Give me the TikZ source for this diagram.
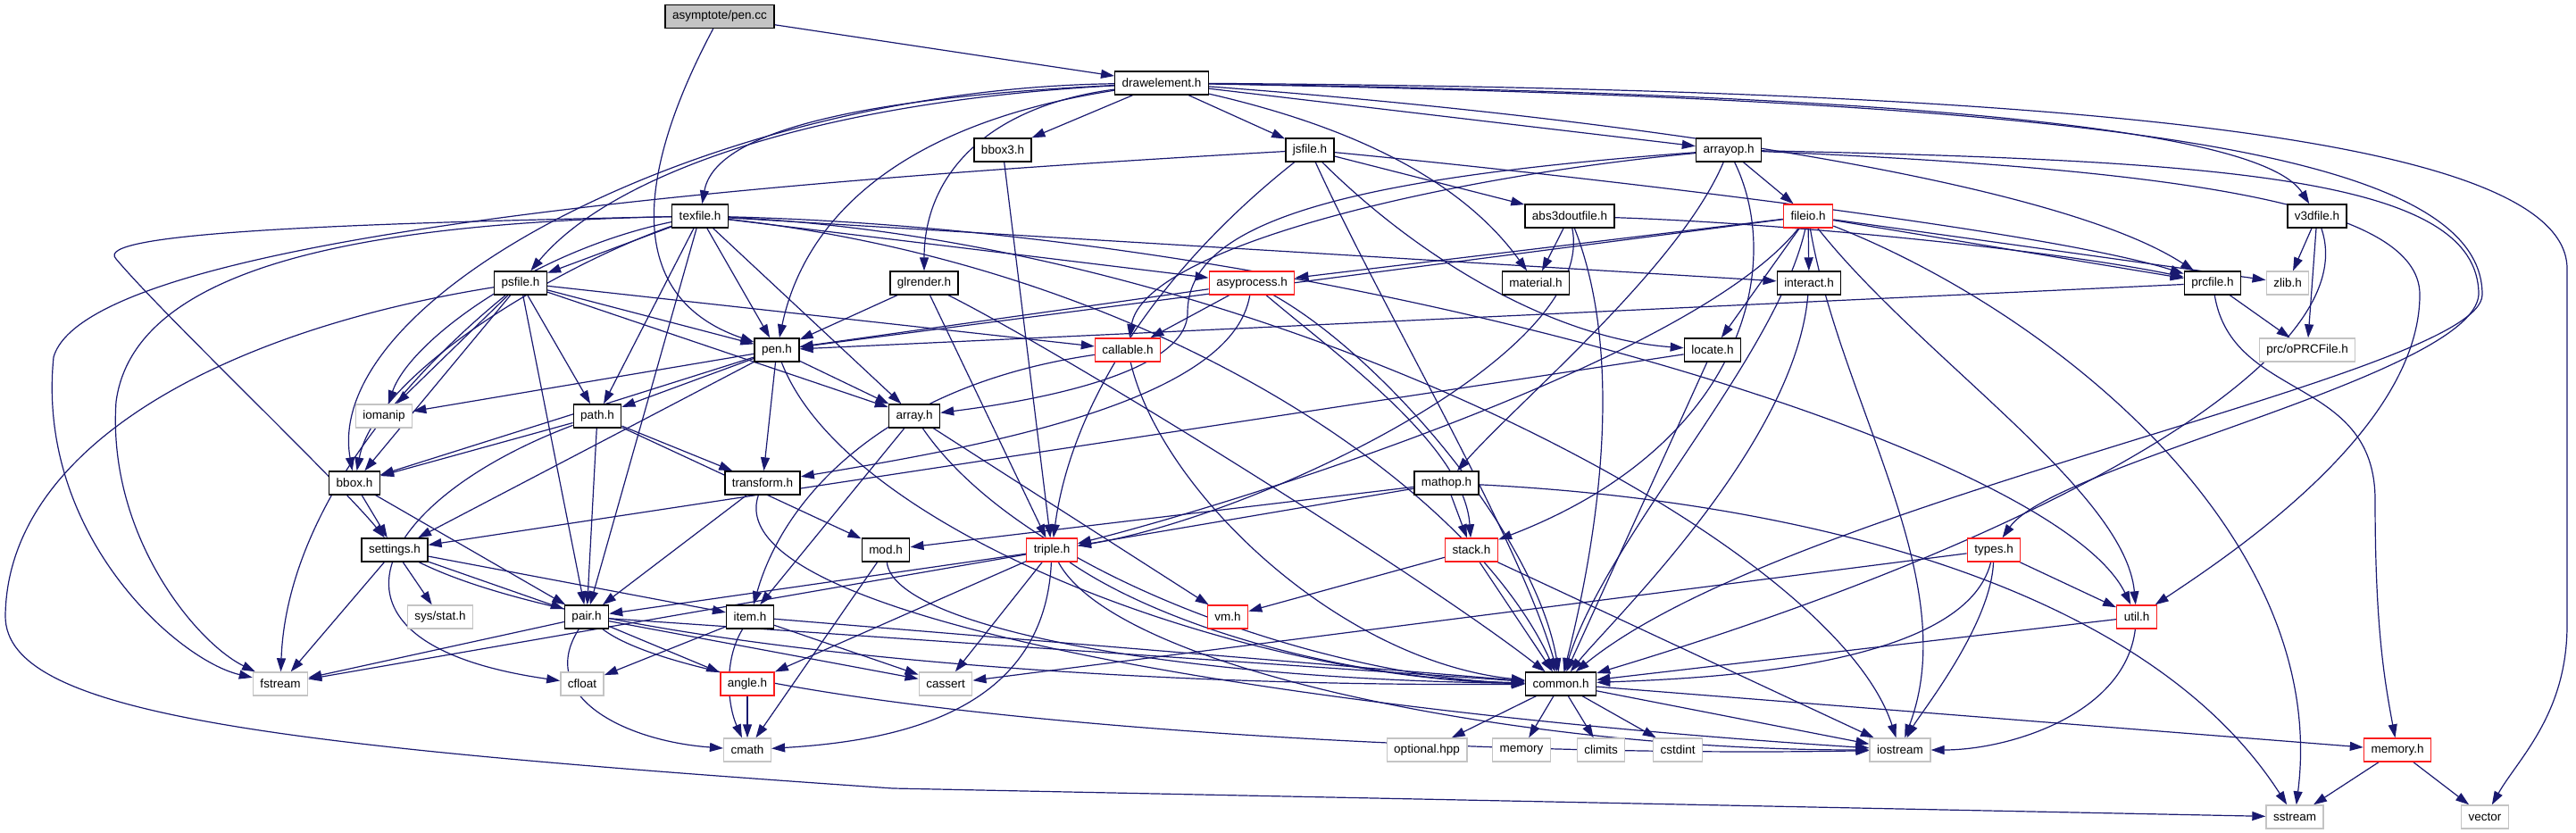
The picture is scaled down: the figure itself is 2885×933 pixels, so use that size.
\documentclass[tikz,border=0pt]{standalone}
\usepackage{fontspec}
\setmainfont{Liberation Sans}
\usetikzlibrary{arrows.meta,backgrounds}
\definecolor{edgeblue}{RGB}{25,25,112}
\definecolor{boxred}{RGB}{250,30,30}
\definecolor{boxgray}{RGB}{196,196,196}
\begin{document}
\begin{tikzpicture}[x=1pt,y=-1pt,
  hfile/.style={draw=black,fill=white,line width=1.4pt,minimum height=26pt,
    inner xsep=8pt,inner ysep=0pt,font=\fontsize{13.5}{15}\selectfont},
  redfile/.style={hfile,draw=boxred},
  sysfile/.style={hfile,draw=boxgray},
  startfile/.style={hfile,fill=boxgray},
  incl/.style={draw=edgeblue,line width=1.2pt,-{Triangle[length=15pt,width=10pt]}}]
\useasboundingbox (0,0) rectangle (2885,933);

% rank 0 - 4
\node[startfile] (pencc) at (806,18.5) {asymptote/pen.cc};
\node[hfile] (drawel) at (1301,93) {drawelement.h};
\node[hfile] (bboxthree) at (1123,168) {bbox3.h};
\node[hfile] (jsfile) at (1467,168) {jsfile.h};
\node[hfile] (arrayop) at (1936,168) {arrayop.h};
\node[hfile] (texfile) at (784,242) {texfile.h};
\node[hfile] (absout) at (1758,242) {abs3doutfile.h};
\node[redfile] (fileio) at (2025,242) {fileio.h};
\node[hfile] (vthree) at (2595,242) {v3dfile.h};
\node[hfile] (psfile) at (583,317) {psfile.h};
\node[hfile] (glrender) at (1035,317) {glrender.h};
\node[redfile] (asyproc) at (1402,317) {asyprocess.h};
\node[hfile] (material) at (1720,317) {material.h};
\node[hfile] (interact) at (2026,317) {interact.h};
\node[hfile] (prcfile) at (2478,317) {prcfile.h};
\node[sysfile] (zlib) at (2562,317) {zlib.h};

% rank 5 - 9
\node[hfile] (pen) at (870,392) {pen.h};
\node[redfile] (callable) at (1263,392) {callable.h};
\node[hfile] (locate) at (1918,392) {locate.h};
\node[sysfile] (oprc) at (2584,392) {prc/oPRCFile.h};
\node[sysfile] (iomanip) at (430,466) {iomanip};
\node[hfile] (path) at (669,466) {path.h};
\node[hfile] (array) at (1024,466) {array.h};
\node[hfile] (bbox) at (397,541) {bbox.h};
\node[hfile] (transform) at (854,541) {transform.h};
\node[hfile] (mathop) at (1620,541) {mathop.h};
\node[hfile] (settings) at (442,616) {settings.h};
\node[hfile] (mod) at (992,616) {mod.h};
\node[redfile] (triple) at (1178,616) {triple.h};
\node[redfile] (stack) at (1648,616) {stack.h};
\node[redfile] (types) at (2233,616) {types.h};
\node[sysfile] (sysstat) at (493,691) {sys/stat.h};
\node[hfile] (pair) at (657,691) {pair.h};
\node[hfile] (item) at (840,691) {item.h};
\node[redfile] (vm) at (1375,691) {vm.h};
\node[redfile] (util) at (2393,691) {util.h};

% rank 10 - 12
\node[sysfile] (fstream) at (314,766) {fstream};
\node[sysfile] (cfloat) at (652,766) {cfloat};
\node[redfile] (angle) at (837,766) {angle.h};
\node[sysfile] (cassert) at (1059,766) {cassert};
\node[hfile] (common) at (1748,766) {common.h};
\node[sysfile] (cmath) at (837,840) {cmath};
\node[sysfile] (optional) at (1598,840) {optional.hpp};
\node[sysfile] (memory) at (1704,840) {memory};
\node[sysfile] (climits) at (1793,840) {climits};
\node[sysfile] (cstdint) at (1879,840) {cstdint};
\node[sysfile] (iostream) at (2128,840) {iostream};
\node[redfile] (memoryh) at (2685,840) {memory.h};
\node[sysfile] (sstream) at (2570,915) {sstream};
\node[sysfile] (vector) at (2783,915) {vector};

\begin{pgfonlayer}{background}
% pen.cc
\draw[incl] (pencc) -- (drawel);
\draw[incl] (pencc) .. controls (720,180) and (690,330) .. (pen);

% drawelement.h
\draw[incl] (drawel) -- (bboxthree);
\draw[incl] (drawel) -- (jsfile);
\draw[incl] (drawel) -- (arrayop);
\draw[incl] (drawel) .. controls (950,110) and (800,150) .. (texfile);
\draw[incl] (drawel) .. controls (900,115) and (680,200) .. (psfile);
\draw[incl] (drawel) .. controls (800,100) and (360,330) .. (bbox);
\draw[incl] (drawel) .. controls (1000,140) and (900,250) .. (pen);
\draw[incl] (drawel) .. controls (1100,120) and (1035,200) .. (glrender);
\draw[incl] (drawel) .. controls (1550,150) and (1650,220) .. (material);
\draw[incl] (drawel) .. controls (1800,130) and (2300,200) .. (prcfile);
\draw[incl] (drawel) .. controls (2100,105) and (2530,140) .. (vthree);
\draw[incl] (drawel) .. controls (2300,100) and (2872,150) .. (2875,300)
  -- (2875,700) .. controls (2875,800) and (2820,850) .. (vector);
\draw[incl] (drawel) .. controls (2300,112) and (2780,160) .. (2780,330)
  .. controls (2780,420) and (2000,560) .. (common);

% bbox3.h, jsfile.h
\draw[incl] (bboxthree) -- (triple);
\draw[incl] (jsfile) .. controls (900,200) and (100,260) .. (60,400)
  .. controls (40,600) and (200,740) .. (fstream);
\draw[incl] (jsfile) .. controls (1300,300) and (1200,450) .. (triple);
\draw[incl] (jsfile) .. controls (1550,350) and (1700,600) .. (common);
\draw[incl] (jsfile) .. controls (1600,300) and (1750,380) .. (locate);
\draw[incl] (jsfile) .. controls (1800,200) and (2300,260) .. (prcfile);
\draw[incl] (jsfile) -- (absout);

% arrayop.h
\draw[incl] (arrayop) -- (fileio);
\draw[incl] (arrayop) .. controls (1600,200) and (1280,280) .. (callable);
\draw[incl] (arrayop) .. controls (1500,200) and (1330,250) .. (1330,350)
  .. controls (1330,420) and (1150,450) .. (array);
\draw[incl] (arrayop) .. controls (1880,300) and (1700,450) .. (mathop);
\draw[incl] (arrayop) .. controls (2000,300) and (1950,500) .. (stack);
\draw[incl] (arrayop) .. controls (2500,180) and (2776,200) .. (2776,330)
  .. controls (2770,420) and (2300,520) .. (types);
\draw[incl] (arrayop) .. controls (2450,190) and (2710,230) .. (2710,330)
  .. controls (2710,480) and (2500,620) .. (util);

% texfile.h
\draw[incl] (texfile) -- (psfile);
\draw[incl] (texfile) -- (pen);
\draw[incl] (texfile) -- (path);
\draw[incl] (texfile) -- (pair);
\draw[incl] (texfile) -- (array);
\draw[incl] (texfile) -- (interact);
\draw[incl] (texfile) -- (asyproc);
\draw[incl] (texfile) .. controls (600,280) and (460,380) .. (iomanip);
\draw[incl] (texfile) .. controls (620,300) and (420,420) .. (bbox);
\draw[incl] (texfile) .. controls (1300,300) and (1650,550) .. (common);
\draw[incl] (texfile) .. controls (1500,260) and (2300,500) .. (util);
\draw[incl] (texfile) .. controls (1400,270) and (2050,600) .. (iostream);
\draw[incl] (texfile) .. controls (400,250) and (150,300) .. (130,450)
  .. controls (120,600) and (220,720) .. (fstream);
\draw[incl] (texfile) .. controls (400,250) and (100,260) .. (130,290)
  .. controls (180,350) and (380,540) .. (settings);

% abs3doutfile.h, fileio.h, v3dfile.h
\draw[incl] (absout) -- (material);
\draw[incl] (absout) .. controls (1790,400) and (1400,580) .. (triple);
\draw[incl] (absout) .. controls (1820,400) and (1790,600) .. (common);
\draw[incl] (absout) .. controls (2000,250) and (2300,280) .. (prcfile);
\draw[incl] (fileio) -- (pen);
\draw[incl] (fileio) -- (asyproc);
\draw[incl] (fileio) -- (interact);
\draw[incl] (fileio) -- (locate);
\draw[incl] (fileio) -- (zlib);
\draw[incl] (fileio) -- (prcfile);
\draw[incl] (fileio) .. controls (1990,400) and (1800,600) .. (common);
\draw[incl] (fileio) .. controls (2150,400) and (2380,550) .. (util);
\draw[incl] (fileio) .. controls (2060,450) and (2200,650) .. (iostream);
\draw[incl] (fileio) .. controls (2300,350) and (2610,600) .. (sstream);
\draw[incl] (fileio) .. controls (1900,400) and (1400,560) .. (triple);
\draw[incl] (vthree) -- (zlib);
\draw[incl] (vthree) -- (oprc);
\draw[incl] (vthree) .. controls (2650,400) and (2300,600) .. (common);

% psfile.h
\draw[incl] (psfile) -- (pen);
\draw[incl] (psfile) -- (iomanip);
\draw[incl] (psfile) -- (bbox);
\draw[incl] (psfile) -- (path);
\draw[incl] (psfile) -- (pair);
\draw[incl] (psfile) -- (array);
\draw[incl] (psfile) -- (callable);
\draw[incl] (psfile) .. controls (420,450) and (320,600) .. (fstream);
\draw[incl] (psfile) .. controls (250,370) and (8,500) .. (6,690)
  .. controls (6,800) and (300,835) .. (1000,883) -- (sstream);

% glrender.h, asyprocess.h, interact.h, prcfile.h
\draw[incl] (glrender) -- (pen);
\draw[incl] (glrender) -- (triple);
\draw[incl] (glrender) .. controls (1200,400) and (1600,650) .. (common);
\draw[incl] (asyproc) -- (pen);
\draw[incl] (asyproc) -- (callable);
\draw[incl] (asyproc) .. controls (1380,450) and (1100,500) .. (transform);
\draw[incl] (asyproc) .. controls (1500,400) and (1640,500) .. (stack);
\draw[incl] (asyproc) .. controls (1550,400) and (1720,600) .. (common);
\draw[incl] (interact) .. controls (2010,500) and (1800,700) .. (common);
\draw[incl] (prcfile) -- (pen);
\draw[incl] (prcfile) -- (oprc);
\draw[incl] (prcfile) .. controls (2500,450) and (2660,420) .. (2660,560)
  .. controls (2660,700) and (2670,760) .. (memoryh);

% pen.h, callable.h, locate.h
\draw[incl] (pen) -- (iomanip);
\draw[incl] (pen) -- (transform);
\draw[incl] (pen) -- (settings);
\draw[incl] (pen) -- (bbox);
\draw[incl] (pen) -- (path);
\draw[incl] (pen) -- (array);
\draw[incl] (pen) .. controls (950,600) and (1400,760) .. (common);
\draw[incl] (callable) .. controls (1000,430) and (880,550) .. (item);
\draw[incl] (callable) .. controls (1300,550) and (1500,740) .. (common);
\draw[incl] (locate) -- (settings);
\draw[incl] (locate) -- (common);

% path.h, array.h, bbox.h, transform.h, mathop.h
\draw[incl] (path) -- (bbox);
\draw[incl] (path) -- (transform);
\draw[incl] (path) -- (mod);
\draw[incl] (path) -- (pair);
\draw[incl] (path) .. controls (420,560) and (330,720) .. (cfloat);
\draw[incl] (array) -- (vm);
\draw[incl] (array) -- (item);
\draw[incl] (array) .. controls (1150,650) and (1500,760) .. (common);
\draw[incl] (bbox) -- (settings);
\draw[incl] (bbox) -- (pair);
\draw[incl] (transform) -- (pair);
\draw[incl] (transform) .. controls (800,700) and (1500,800) .. (iostream);
\draw[incl] (mathop) -- (mod);
\draw[incl] (mathop) -- (triple);
\draw[incl] (mathop) -- (stack);
\draw[incl] (mathop) .. controls (2000,560) and (2400,650) .. (sstream);

% settings.h, mod.h, triple.h, stack.h, types.h
\draw[incl] (settings) -- (fstream);
\draw[incl] (settings) -- (sysstat);
\draw[incl] (settings) -- (pair);
\draw[incl] (settings) -- (item);
\draw[incl] (settings) .. controls (650,720) and (1200,770) .. (common);
\draw[incl] (mod) -- (cmath);
\draw[incl] (mod) .. controls (1000,700) and (1300,760) .. (common);
\draw[incl] (triple) -- (pair);
\draw[incl] (triple) -- (fstream);
\draw[incl] (triple) -- (cassert);
\draw[incl] (triple) -- (angle);
\draw[incl] (triple) .. controls (1170,800) and (1000,830) .. (cmath);
\draw[incl] (triple) .. controls (1300,700) and (1500,760) .. (common);
\draw[incl] (triple) .. controls (1250,750) and (1700,840) .. (iostream);
\draw[incl] (stack) -- (vm);
\draw[incl] (stack) -- (common);
\draw[incl] (stack) -- (iostream);
\draw[incl] (types) -- (cassert);
\draw[incl] (types) -- (util);
\draw[incl] (types) .. controls (2200,750) and (1900,760) .. (common);
\draw[incl] (types) .. controls (2230,700) and (2150,800) .. (iostream);

% pair.h, item.h, util.h, angle.h
\draw[incl] (pair) -- (fstream);
\draw[incl] (pair) -- (angle);
\draw[incl] (pair) -- (cassert);
\draw[incl] (pair) -- (common);
\draw[incl] (pair) .. controls (600,780) and (700,830) .. (cmath);
\draw[incl] (pair) .. controls (800,800) and (1600,850) .. (iostream);
\draw[incl] (item) -- (cfloat);
\draw[incl] (item) -- (cassert);
\draw[incl] (item) -- (common);
\draw[incl] (item) .. controls (810,740) and (815,790) .. (cmath);
\draw[incl] (util) -- (common);
\draw[incl] (util) .. controls (2380,800) and (2250,840) .. (iostream);
\draw[incl] (angle) -- (cmath);

% common.h, memory.h
\draw[incl] (common) -- (optional);
\draw[incl] (common) -- (memory);
\draw[incl] (common) -- (climits);
\draw[incl] (common) -- (cstdint);
\draw[incl] (common) -- (iostream);
\draw[incl] (common) -- (memoryh);
\draw[incl] (memoryh) -- (sstream);
\draw[incl] (memoryh) -- (vector);
\end{pgfonlayer}
\end{tikzpicture}
\end{document}
